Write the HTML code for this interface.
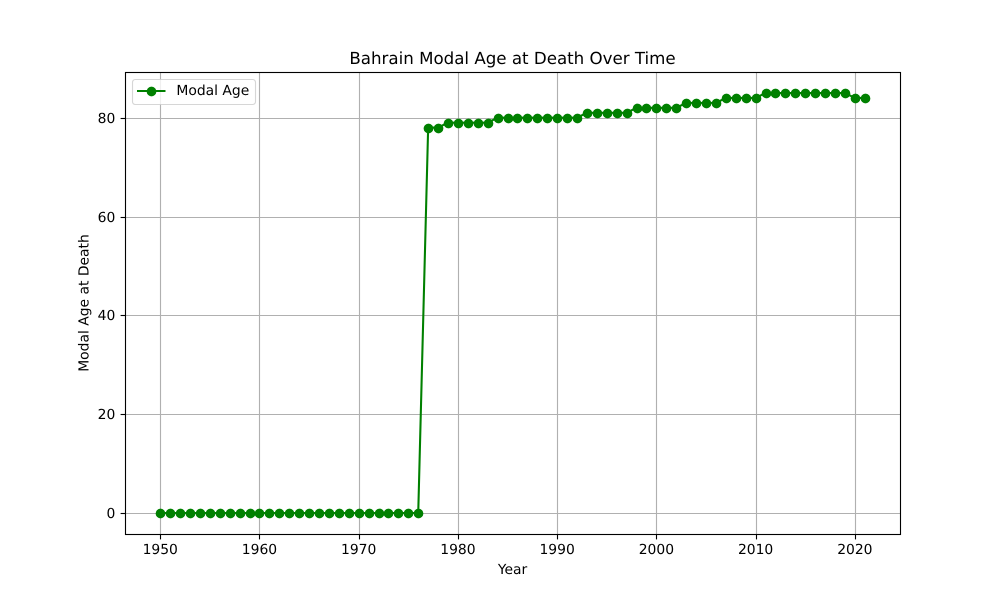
<!DOCTYPE html>
<html>
<head>
<meta charset="utf-8">
<style>
html,body{margin:0;padding:0;background:#fff;}
svg{display:block;}
text{font-family:"DejaVu Sans","Liberation Sans",sans-serif;fill:#000;text-rendering:geometricPrecision;}
</style>
</head>
<body>
<svg id="chart" width="1000" height="600" viewBox="0 0 1000 600" xmlns="http://www.w3.org/2000/svg"></svg>
<script>
const xTicks = [1950, 1960, 1970, 1980, 1990, 2000, 2010, 2020];
const yTicks = [0, 20, 40, 60, 80];
const startYear = 1950;
const modalAges = [
  0,0,0,0,0,0,0,0,0,0,
  0,0,0,0,0,0,0,0,0,0,
  0,0,0,0,0,0,0,78,78,79,
  79,79,79,79,80,80,80,80,80,80,
  80,80,80,81,81,81,81,81,82,82,
  82,82,82,83,83,83,83,84,84,84,
  84,85,85,85,85,85,85,85,85,85,
  84,84
];
const years = modalAges.map((_, i) => startYear + i);

const svg = document.getElementById('chart');
const NS = 'http://www.w3.org/2000/svg';
const plot = {left:125, right:900, top:72, bottom:534};
const xMin = 1950 - 3.55, xMax = 2021 + 3.55;
const yMin = -4.25, yMax = 89.25;
const xScale = v => plot.left + (v - xMin) * (plot.right - plot.left) / (xMax - xMin);
const yScale = v => plot.bottom - (v - yMin) * (plot.bottom - plot.top) / (yMax - yMin);
const snap = v => Math.floor(v + 0.5) + 0.5;
const thin = 1.11;

function add(tag, attrs, parent, text){
  const el = document.createElementNS(NS, tag);
  for (const k in attrs) el.setAttribute(k, attrs[k]);
  if (text !== undefined) el.textContent = text;
  (parent || svg).appendChild(el);
  return el;
}

const gridGroup = add('g', {});


const tickGroup = add('g', {});



xTicks.forEach(t => {
  const x = snap(xScale(t));
  const g = add('line', {x1:x, x2:x, y1:plot.top, y2:plot.bottom, stroke:'#b0b0b0', 'stroke-width':thin}, gridGroup);
  
  
  const m = add('line', {x1:x, x2:x, y1:plot.bottom + 0.5, y2:plot.bottom + 5.4, stroke:'#000', 'stroke-width':thin}, tickGroup);
  
  
  const l = add('text', {x:xScale(t), y:554, 'font-size':13.89, 'text-anchor':'middle'}, tickGroup, String(t));
  
  
});

yTicks.forEach(t => {
  const y = snap(yScale(t));
  const g = add('line', {x1:plot.left, x2:plot.right, y1:y, y2:y, stroke:'#b0b0b0', 'stroke-width':thin}, gridGroup);
  
  
  const m = add('line', {x1:plot.left - 4.4, x2:plot.left + 0.5, y1:y, y2:y, stroke:'#000', 'stroke-width':thin}, tickGroup);
  
  
  const l = add('text', {x:plot.left - 9.7, y:Math.round(yScale(t)) + 5, 'font-size':13.89, 'text-anchor':'end'}, tickGroup, String(t));
  
  
});

const series = add('g', {});


const linePts = years.map((yr, i) => xScale(yr) + ',' + yScale(modalAges[i])).join(' ');
const seriesLine = add('polyline', {points:linePts, fill:'none', stroke:'#008000', 'stroke-width':2.08, 'stroke-linejoin':'round'}, series);


years.forEach((yr, i) => {
  const c = add('circle', {cx:snap(xScale(yr)), cy:snap(yScale(modalAges[i])), r:4.86, fill:'#008000'}, series);
  
  
});

const frame = add('rect', {x:plot.left + 0.5, y:plot.top + 0.5, width:plot.right - plot.left, height:plot.bottom - plot.top, fill:'none', stroke:'#000', 'stroke-width':thin});



const title = add('text', {x:512.5, y:64, 'font-size':16.67, 'text-anchor':'middle'}, svg, 'Bahrain Modal Age at Death Over Time');


const xTitle = add('text', {x:512.5, y:574, 'font-size':13.89, 'text-anchor':'middle'}, svg, 'Year');


const yTitle = add('text', {x:0, y:0, 'font-size':13.89, 'text-anchor':'middle', transform:'translate(88.5 303) rotate(-90)'}, svg, 'Modal Age at Death');



const legend = add('g', {});


const legendBox = add('rect', {x:132.5, y:79.5, width:123, height:25, rx:2.8, ry:2.8, fill:'#fff', 'fill-opacity':0.8, stroke:'#ccc', 'stroke-opacity':0.8, 'stroke-width':thin}, legend);


const legendLine = add('line', {x1:137, x2:165.5, y1:91, y2:91, stroke:'#008000', 'stroke-width':2.08}, legend);


const legendMarker = add('circle', {cx:151.5, cy:91.5, r:4.86, fill:'#008000'}, legend);


const legendLabel = add('text', {x:176.4, y:95, 'font-size':13.89}, legend, 'Modal Age');


</script>
</body>
</html>
